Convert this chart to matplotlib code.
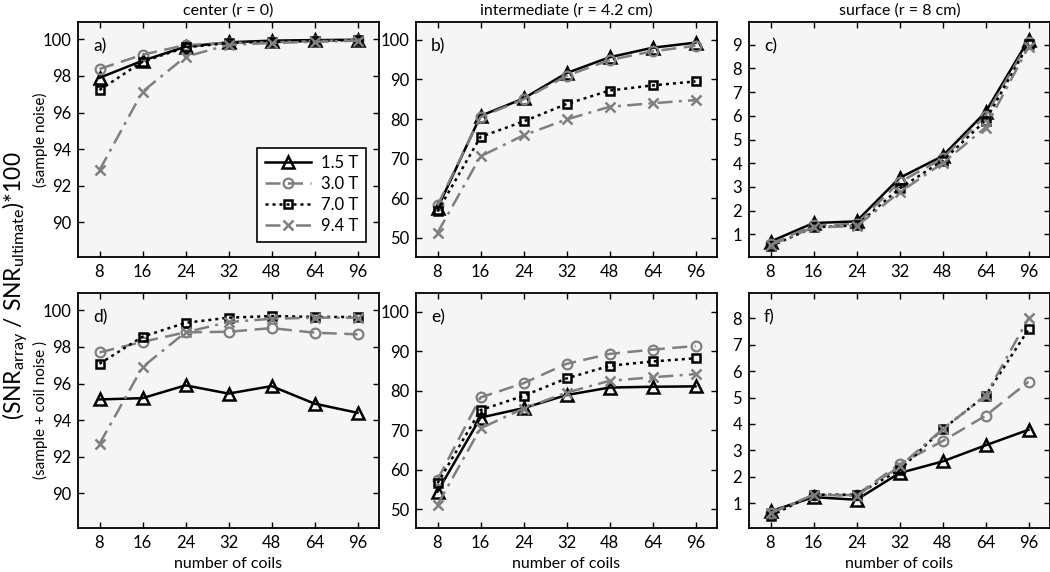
import numpy as np
import matplotlib.pyplot as plt

plt.rcParams["font.family"] = ["Lato", "DejaVu Sans"]

coils = ["8", "16", "24", "32", "48", "64", "96"]
fields = ["1.5 T", "3.0 T", "7.0 T", "9.4 T"]

# sample noise
center_s = [
    [97.9, 98.83, 99.6, 99.84, 99.93, 99.96, 99.98],
    [98.38, 99.16, 99.69, 99.8, 99.84, 99.9, 99.96],
    [97.23, 98.78, 99.56, 99.8, 99.87, 99.93, 99.96],
    [92.85, 97.14, 99.05, 99.7, 99.8, 99.87, 99.93],
]
inter_s = [
    [57.5, 80.8, 85.2, 91.6, 95.6, 98.0, 99.3],
    [58.2, 80.5, 85.0, 90.9, 94.9, 97.1, 98.5],
    [56.7, 75.5, 79.4, 83.8, 87.2, 88.5, 89.5],
    [51.3, 70.6, 75.9, 79.9, 83.1, 84.0, 84.8],
]
surf_s = [
    [0.7, 1.48, 1.55, 3.38, 4.3, 6.15, 9.2],
    [0.6, 1.38, 1.45, 3.2, 4.2, 6.0, 9.1],
    [0.5, 1.3, 1.38, 2.94, 4.1, 5.8, 9.02],
    [0.55, 1.3, 1.35, 2.77, 4.0, 5.5, 8.9],
]
# sample + coil noise
center_c = [
    [95.13, 95.2, 95.9, 95.45, 95.86, 94.9, 94.4],
    [97.7, 98.28, 98.8, 98.83, 99.03, 98.78, 98.69],
    [97.08, 98.56, 99.32, 99.6, 99.69, 99.64, 99.64],
    [92.7, 96.9, 98.8, 99.36, 99.54, 99.6, 99.6],
]
inter_c = [
    [54.5, 73.2, 75.6, 78.9, 80.8, 81.0, 81.1],
    [57.5, 78.3, 81.9, 86.8, 89.3, 90.4, 91.3],
    [56.6, 75.1, 78.7, 83.1, 86.3, 87.4, 88.2],
    [51.2, 70.5, 75.5, 79.5, 82.5, 83.4, 84.2],
]
surf_c = [
    [0.69, 1.23, 1.13, 2.14, 2.58, 3.19, 3.78],
    [0.62, 1.31, 1.31, 2.48, 3.35, 4.31, 5.6],
    [0.52, 1.32, 1.32, 2.26, 3.8, 5.07, 7.58],
    [0.62, 1.32, 1.28, 2.39, 3.8, 5.07, 8.0],
]

styles = [
    dict(color="black", ls="-", marker="^", ms=8, mfc="none", mec="black", mew=1.8),
    dict(color="#7f7f7f", ls=(0, (6, 3)), marker="o", ms=7, mfc="none", mec="#7f7f7f", mew=1.6),
    dict(color="black", ls=(0, (1.2, 1.6)), marker="s", ms=6, mfc="none", mec="black", mew=1.8),
    dict(color="#7f7f7f", ls=(0, (6, 2.5, 1.2, 2.5)), marker="x", ms=7, mec="#7f7f7f", mew=1.8),
]

panels = [
    (center_s, (88.1, 100.95), np.arange(90, 101, 2), "a)"),
    (inter_s, (45.2, 104.5), np.arange(50, 101, 10), "b)"),
    (surf_s, (0.05, 9.95), np.arange(1, 10, 1), "c)"),
    (center_c, (88.1, 100.95), np.arange(90, 101, 2), "d)"),
    (inter_c, (45.3, 104.7), np.arange(50, 101, 10), "e)"),
    (surf_c, (0.06, 8.96), np.arange(1, 9, 1), "f)"),
]
titles = ["center (r = 0)", "intermediate (r = 4.2 cm)", "surface (r = 8 cm)"]

W, H = 1050, 572
fig = plt.figure(figsize=(W / 100, H / 100), dpi=100)
lefts = [78, 416, 749]
tops = [22, 293]
aw, ah = 301, 235

x = np.arange(len(coils))
for k, (data, ylim, yt, lab) in enumerate(panels):
    r, c = divmod(k, 3)
    ax = fig.add_axes([lefts[c] / W, 1 - (tops[r] + ah) / H, aw / W, ah / H])
    ax.set_facecolor("#f5f5f5")
    for vals, st, name in zip(data, styles, fields):
        ax.plot(x, vals, lw=1.8, label=name, **st)
    ax.set_xlim(-0.5, 6.5)
    ax.set_ylim(*ylim)
    ax.set_xticks(x)
    ax.set_xticklabels(coils)
    ax.set_yticks(yt)
    ax.tick_params(direction="in", top=True, right=True, length=4, width=1,
                   labelsize=12, pad=5)
    for s in ax.spines.values():
        s.set_linewidth(1.3)
    ax.text(0.05, 0.93, lab, transform=ax.transAxes, fontsize=12.5, va="top")
    if r == 0:
        ax.set_title(titles[c], fontsize=11.5, pad=5)
    else:
        ax.set_xlabel("number of coils", fontsize=11.5, labelpad=4)
    if k == 0:
        leg = ax.legend(loc="lower right", fontsize=12, fancybox=False,
                        edgecolor="black", framealpha=1, handlelength=2.8,
                        borderpad=0.45, labelspacing=0.3, handletextpad=0.6,
                        bbox_to_anchor=(0.985, 0.03))
        leg.get_frame().set_linewidth(1.2)

fig.text(16 / W, 0.5, r"(SNR$_{\mathregular{array}}$ / SNR$_{\mathregular{ultimate}}$)*100",
         rotation=90, ha="center", va="center", fontsize=16.5)
fig.text(40 / W, 1 - 140 / H, "(sample noise)", rotation=90, ha="center",
         va="center", fontsize=11)
fig.text(40 / W, 1 - 410 / H, "(sample + coil noise )", rotation=90, ha="center",
         va="center", fontsize=11)

fig.savefig("out.png", dpi=100)
